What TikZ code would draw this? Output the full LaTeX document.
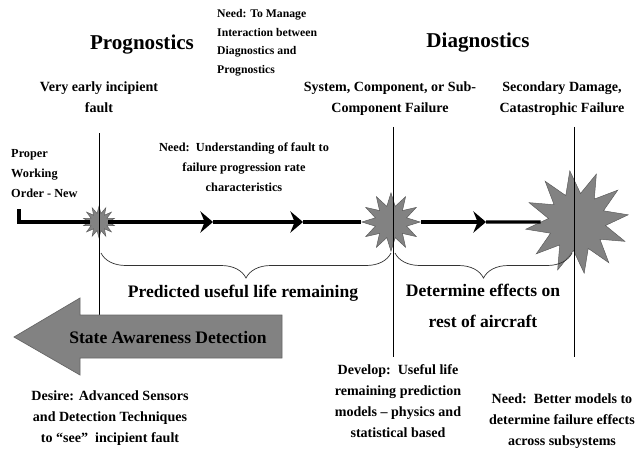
\documentclass[tikz,border=0pt]{standalone}
\usepackage{fontspec}
\setmainfont{Liberation Serif}
\usepackage{xcolor}
\usetikzlibrary{positioning,shapes.geometric,arrows.meta,decorations.pathreplacing}

\definecolor{boomgray}{RGB}{130,130,130}
\tikzset{
  lbl/.style={font=\bfseries\fontsize{12}{18}\selectfont, align=center, inner sep=0pt},
  smlbl/.style={lbl, font=\bfseries\fontsize{10.5}{17}\selectfont},
  headlbl/.style={font=\bfseries\fontsize{18}{20}\selectfont, inner sep=0pt},
  biglbl/.style={font=\bfseries\fontsize{15}{26}\selectfont, align=center, inner sep=0pt},
  boom/.style={star, star points=#1, star point ratio=1.8, draw=black!65, fill=boomgray, inner sep=0pt},
  tline/.style={line width=2.6pt},
  tarrow/.style={tline, -{Stealth[length=3.8mm, width=6.4mm, inset=1.3mm]}},
  mline/.style={line width=0.7pt},
  brc/.style={decorate, decoration={brace, mirror, amplitude=0.75cm}, line width=0.6pt, black!80},
}

\begin{document}
\begin{tikzpicture}[x=0.03cm, y=-0.03cm]
  \useasboundingbox (0,0) rectangle (638,450);

  % titles
  \node[headlbl] (prog) at (142,45) {Prognostics};
  \node[headlbl] (diag) at (478,43) {Diagnostics};
  \node[smlbl, align=left, anchor=north west, font=\bfseries\fontsize{10}{16}\selectfont] (manage) at (217,9)
    {Need: To Manage\\Interaction between\\Diagnostics and\\Prognostics};

  % upper labels
  \node[lbl] (early) at (99,97) {Very early incipient\\fault};
  \node[smlbl, align=left, anchor=north west] (proper) at (11,149) {Proper\\Working\\Order - New};
  \node[smlbl] (understand) at (244,167) {Need:\ \ Understanding of fault to\\failure progression rate\\characteristics};
  \node[lbl] (sysfail) at (390,99) {System, Component, or Sub-\\Component Failure};
  \node[lbl] (secdmg) at (562,99) {Secondary Damage,\\Catastrophic Failure};

  % timeline
  \coordinate (o) at (19,209);
  \coordinate (o2) at (19,222);
  \coordinate (a1) at (213,222);
  \coordinate (a2) at (303,222);
  \coordinate (a3) at (486,222);
  \node[boom=14, minimum size=0.95cm] (s1) at (99,222) {};
  \node[boom=12, minimum size=1.75cm] (s2) at (391,222) {};
  \node[boom=12, minimum size=3.1cm, rotate=8] (s3) at (577,222) {};
  \draw[tline] (o) -- (o2) -- (s1);
  \draw[tarrow] (s1) -- (a1);
  \draw[tarrow] (a1) -- (a2);
  \draw[tline] (a2) -- (s2);
  \draw[tarrow] (s2) -- (a3);
  \draw[tline] (a3) -- (s3);

  % markers
  \coordinate (v1a) at (99,133);
  \coordinate (v1b) at (99,315);
  \coordinate (v2a) at (393,127);
  \coordinate (v2b) at (393,357);
  \coordinate (v3a) at (574,127);
  \coordinate (v3b) at (574,357);
  \draw[mline] (v1a) -- (v1b);
  \draw[mline] (v2a) -- (v2b);
  \draw[mline] (v3a) -- (v3b);

  % braces
  \draw[brc] (101,253) -- (391,253);
  \draw[brc] (395,253) -- (572,253);
  \node[biglbl] (remain) at (243,293) {Predicted useful life remaining};
  \node[biglbl] (effects) at (483,306) {Determine effects on\\rest of aircraft};

  % state awareness arrow
  \filldraw[fill=boomgray, draw=black!60, line width=0.6pt]
    (14,337) -- (80,298) -- (80,315) -- (282,315) -- (282,358) -- (80,358) -- (80,375) -- cycle;
  \node[biglbl] (detect) at (168,337) {State Awareness Detection};

  % lower labels
  \node[lbl] (desire) at (110,418) {Desire: Advanced Sensors\\and Detection Techniques\\to “see”\ \ incipient fault};
  \node[lbl] (develop) at (398,401) {Develop:\ \ Useful life\\remaining prediction\\models – physics and\\statistical based};
  \node[lbl] (better) at (562,421) {Need:\ \ Better models to\\determine failure effects\\across subsystems};
\end{tikzpicture}
\end{document}
